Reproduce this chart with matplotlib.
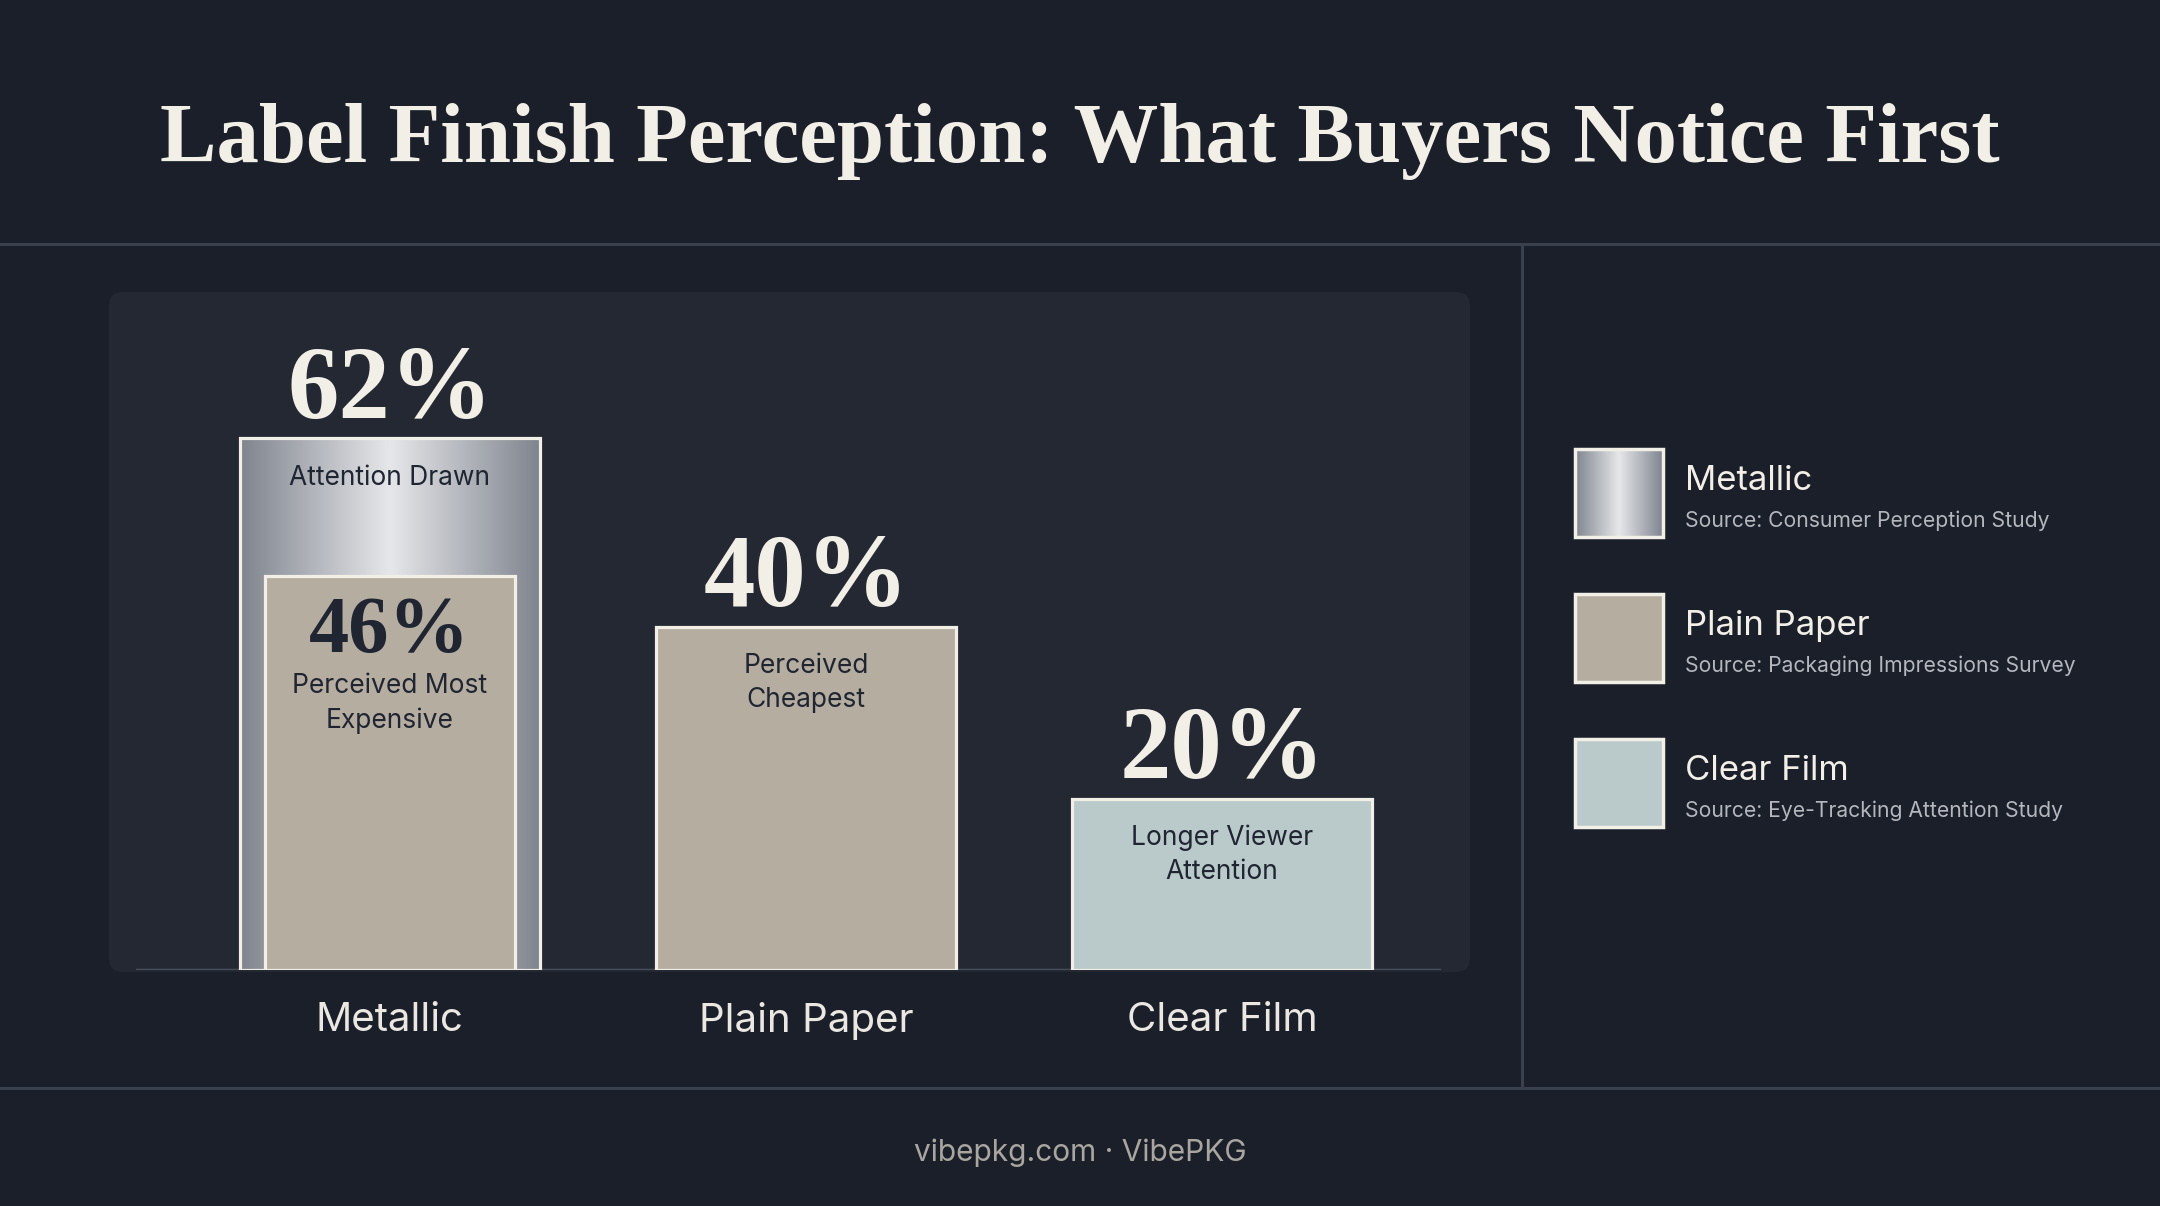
import numpy as np
import matplotlib
matplotlib.use('Agg')
from matplotlib import pyplot as plt
from matplotlib.patches import Rectangle, FancyBboxPatch
from matplotlib.colors import LinearSegmentedColormap

plt.rcParams['font.family'] = ['Inter', 'DejaVu Sans']

# data
categories = ['Metallic', 'Plain Paper', 'Clear Film']
values = [62, 40, 20]
notes = ['Attention Drawn', 'Perceived\nCheapest', 'Longer Viewer\nAttention']
inner_value = 46
inner_note = 'Perceived Most\nExpensive'
sources = ['Source: Consumer Perception Study',
           'Source: Packaging Impressions Survey',
           'Source: Eye-Tracking Attention Study']
title = 'Label Finish Perception: What Buyers Notice First'
footer = 'vibepkg.com \u00b7 VibePKG'

# colours
bg = '#1a1f2a'
panel = '#232832'
line_c = '#3a404c'
cream = '#f2efe7'
paper = '#b6ada1'
film = '#bacaca'
dark = '#1f2531'
metal = LinearSegmentedColormap.from_list(
    'metal', ['#7f848e', '#b3b6bc', '#e6e7ea', '#b3b6bc', '#7f848e'])
fills = [None, paper, film]
serif = 'Liberation Serif'

W, H = 2160, 1206
fig = plt.figure(figsize=(W / 100, H / 100), dpi=100, facecolor=bg)

# background layer in pixel coords
bgax = fig.add_axes([0, 0, 1, 1])
bgax.set_xlim(0, W)
bgax.set_ylim(H, 0)
bgax.axis('off')
bgax.add_patch(FancyBboxPatch((109, 292), 1361, 680, boxstyle='round,pad=0,rounding_size=14',
                              facecolor=panel, edgecolor='none'))
bgax.plot([0, W], [244, 244], color=line_c, lw=2.2)
bgax.plot([0, W], [1088, 1088], color=line_c, lw=2.2)
bgax.plot([1522, 1522], [244, 1088], color=line_c, lw=2.2)
bgax.text(1080, 141, title, ha='center', va='center', color=cream,
          fontsize=61, fontweight='bold', family=serif)
bgax.text(1080, 1153, footer, ha='center', va='center', color='#a8a69f', fontsize=21.5)

# bar chart
ax = fig.add_axes([136 / W, (H - 970) / H, 1305 / W, 643 / H])
ax.set_facecolor('none')
ax.set_xlim(-0.61, 2.526)
ax.set_ylim(0, 75)
for s in ax.spines.values():
    s.set_visible(False)
ax.set_yticks([])
ax.set_xticks(range(len(categories)))
ax.set_xticklabels(categories, fontsize=29, color='#ebe8e1')
ax.tick_params(axis='x', length=0, pad=23)
ax.axhline(0, color='#4a505b', lw=2.5, zorder=1)

bw = 0.72
grad = np.linspace(0, 1, 256).reshape(1, -1)
for i, (v, note) in enumerate(zip(values, notes)):
    x0 = i - bw / 2
    if fills[i] is None:
        ax.imshow(grad, cmap=metal, extent=(x0, x0 + bw, 0, v), aspect='auto', zorder=2)
        ax.add_patch(Rectangle((x0, 0), bw, v, facecolor='none', edgecolor=cream, lw=2.3, zorder=3))
    else:
        ax.bar(i, v, width=bw, color=fills[i], edgecolor=cream, linewidth=2.3, zorder=2)
    ax.annotate(f'{v}%', (i, v), xytext=(0, 15), textcoords='offset points',
                ha='center', va='baseline', color=cream, fontsize=74,
                fontweight='bold', family=serif)
    ax.annotate(note, (i, v), xytext=(0, -19), textcoords='offset points',
                ha='center', va='top', color=dark, fontsize=19, linespacing=1.4, zorder=5)

# stacked inner bar for metallic
ibw = 0.60
ax.bar(0, inner_value, width=ibw, color=paper, edgecolor=cream, linewidth=2.3, zorder=4)
ax.annotate(f'{inner_value}%', (0, inner_value), xytext=(0, -55), textcoords='offset points',
            ha='center', va='baseline', color=dark, fontsize=58, fontweight='bold',
            family=serif, zorder=5)
ax.annotate(inner_note, (0, inner_value), xytext=(0, -70), textcoords='offset points',
            ha='center', va='top', color=dark, fontsize=19, linespacing=1.4, zorder=5)

# legend
sw_x, sw = 1575, 88
for k, (name, src) in enumerate(zip(categories, sources)):
    cy = 493 + k * 145
    y0 = cy - sw / 2
    if fills[k] is None:
        bgax.imshow(grad, cmap=metal, extent=(sw_x, sw_x + sw, y0 + sw, y0), aspect='auto', zorder=2)
        bgax.add_patch(Rectangle((sw_x, y0), sw, sw, facecolor='none', edgecolor=cream, lw=2.5, zorder=3))
    else:
        bgax.add_patch(Rectangle((sw_x, y0), sw, sw, facecolor=fills[k], edgecolor=cream, lw=2.5, zorder=3))
    bgax.text(1685, cy - 12, name, ha='left', va='center', color=cream, fontsize=25)
    bgax.text(1685, cy + 28, src, ha='left', va='center', color='#b4b7be', fontsize=15.2)
bgax.set_xlim(0, W)
bgax.set_ylim(H, 0)

fig.savefig('out.png', dpi=100, facecolor=bg)
